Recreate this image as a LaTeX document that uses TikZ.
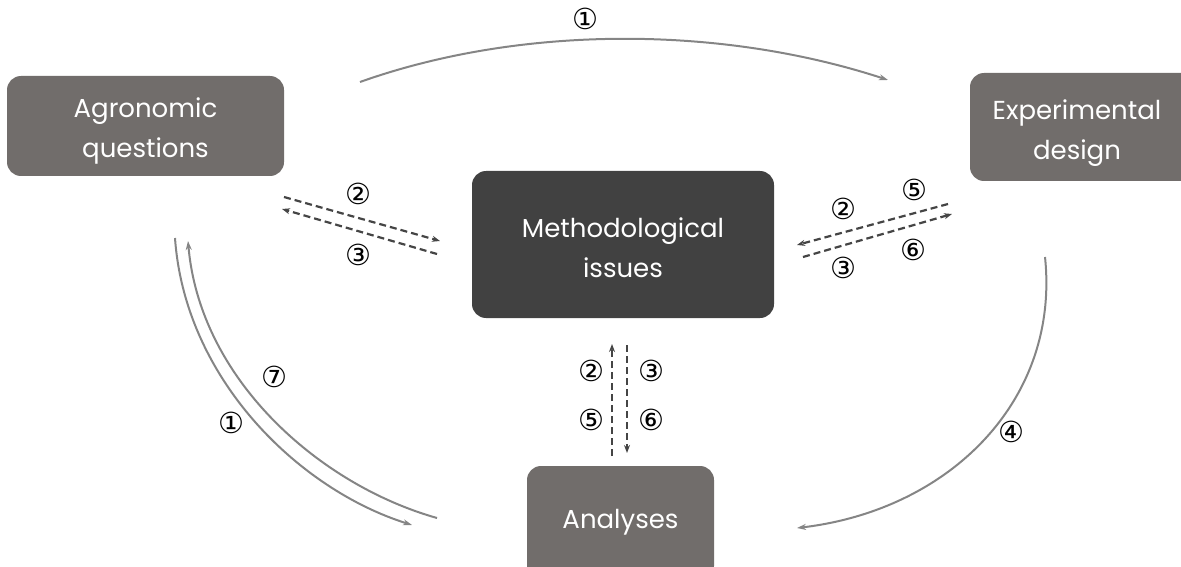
\documentclass[tikz,border=0pt]{standalone}
\usepackage{fontspec}
\setmainfont{Poppins}
\newfontfamily\circfont{DejaVu Sans}
\usetikzlibrary{arrows.meta}
\definecolor{boxgray}{HTML}{716D6B}
\definecolor{boxdark}{HTML}{414141}
\definecolor{arcgray}{HTML}{858585}
\definecolor{dashgray}{HTML}{454545}
\tikzset{
  box/.style={rounded corners=14pt, fill=boxgray, draw=none},
  darkbox/.style={box, fill=boxdark},
  lbl/.style={text=white, align=center, font=\fontsize{26}{40}\selectfont},
  arc/.style={draw=arcgray, line width=2pt, -{Stealth[length=9pt,width=6pt]}},
  dsh/.style={draw=dashgray, line width=2.2pt, dash pattern=on 7pt off 4pt, -{Stealth[length=8pt,width=6pt]}},
  num/.style={font=\circfont\fontsize{29}{29}\selectfont, text=black, inner sep=0pt}
}
\begin{document}
\begin{tikzpicture}[x=1pt,y=-1pt]
\useasboundingbox (0,0) rectangle (1181,567);
% boxes
\path[box] (7,76) rectangle (284,176);
\node[lbl] (agro) at (145.5,131) {Agronomic\\questions};
\path[box] (970,73) rectangle (1195,181);
\node[lbl] (exp) at (1077,133) {Experimental\\design};
\path[darkbox] (472,171) rectangle (774,318);
\node[lbl] (meth) at (623,248) {Methodological\\issues};
\path[box] (527,466) rectangle (714,580);
\node[lbl] (ana) at (620.5,522) {Analyses};
% coordinates
\coordinate (t1) at (360,82);
\coordinate (t2) at (888,80);
\coordinate (l1a) at (284,197);
\coordinate (l1b) at (440,241);
\coordinate (l2a) at (437,254);
\coordinate (l2b) at (282,209);
\coordinate (r1a) at (948,204);
\coordinate (r1b) at (797,245);
\coordinate (r2a) at (803,257);
\coordinate (r2b) at (952,214);
\coordinate (v1a) at (612,456);
\coordinate (v1b) at (612,344);
\coordinate (v2a) at (627,345);
\coordinate (v2b) at (627,453);
\coordinate (lo1) at (175,238);
\coordinate (lo2) at (412,525);
\coordinate (li1) at (437,518);
\coordinate (li2) at (188,241);
\coordinate (ra1) at (1045,257);
\coordinate (ra2) at (797,528);
% solid arcs
\draw[arc] (t1) .. controls (520,25) and (720,25) .. (t2);
\draw[arc] (lo1) .. controls (185,380) and (300,490) .. (lo2);
\draw[arc] (li1) .. controls (320,485) and (200,380) .. (li2);
\draw[arc] (ra1) .. controls (1060,400) and (950,510) .. (ra2);
% dashed
\draw[dsh] (l1a) -- (l1b);
\draw[dsh] (l2a) -- (l2b);
\draw[dsh] (r1a) -- (r1b);
\draw[dsh] (r2a) -- (r2b);
\draw[dsh] (v1a) -- (v1b);
\draw[dsh] (v2a) -- (v2b);
% labels
\node[num] (n1) at (585,19) {①};
\node[num] (n2) at (358,194) {②};
\node[num] (n3) at (358,255) {③};
\node[num] (n4) at (843,209) {②};
\node[num] (n5) at (914,190) {⑤};
\node[num] (n6) at (913,250) {⑥};
\node[num] (n7) at (843,268) {③};
\node[num] (n8) at (591,371) {②};
\node[num] (n9) at (651,371) {③};
\node[num] (n10) at (591,420) {⑤};
\node[num] (n11) at (651,420) {⑥};
\node[num] (n12) at (274,377) {⑦};
\node[num] (n13) at (231,423) {①};
\node[num] (n14) at (1011,432) {④};
\end{tikzpicture}
\end{document}
